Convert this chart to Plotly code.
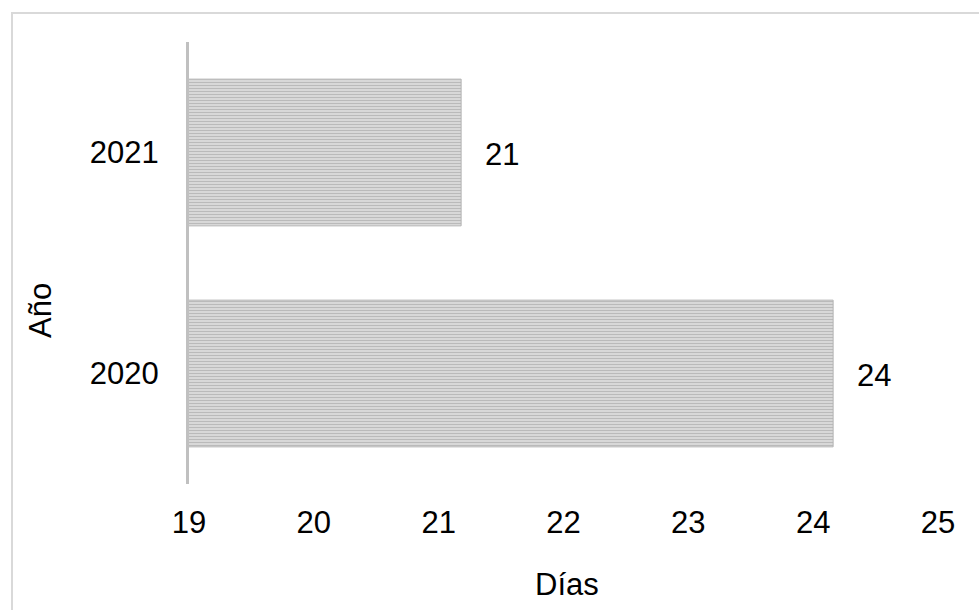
import plotly.graph_objects as go

# Days per year
years = ["2020", "2021"]
days = [24.16, 21.18]
x_ticks = [19, 20, 21, 22, 23, 24, 25]

W, H = 979, 610
L, R, T, B = 189, 41, 42, 126
PW, PH = W - L - R, H - T - B


def px_x(px):
    return (px - L) / PW


def px_y(py):
    return (H - B - py) / PH


FONT = "Liberation Sans, Arial, sans-serif"

fig = go.Figure()
fig.add_trace(go.Bar(
    y=years,
    x=days,
    base=0,
    orientation="h",
    marker=dict(
        color="#e0e0e0",
        line=dict(color="#b5b5b5", width=1),
        pattern=dict(shape="-", fgcolor="#8e8e8e", bgcolor="#e6e6e6",
                     size=3, solidity=0.55),
    ),
    hoverinfo="skip",
))

# Value labels to the right of each bar (category index used for y)
for i, v in enumerate(days):
    fig.add_annotation(x=v, y=i, xref="x", yref="y", text=f"{v:.0f}",
                       showarrow=False, xanchor="left", yanchor="middle",
                       xshift=22, yshift=-2,
                       font=dict(family=FONT, size=31, color="#000000"))

# Axis titles
fig.add_annotation(xref="paper", yref="paper", x=px_x(567), y=px_y(584),
                   text="Días", showarrow=False,
                   xanchor="center", yanchor="middle",
                   font=dict(family=FONT, size=31, color="#000000"))
fig.add_annotation(xref="paper", yref="paper", x=px_x(40), y=px_y(311),
                   text="Año", showarrow=False, textangle=-90,
                   xanchor="center", yanchor="middle",
                   font=dict(family=FONT, size=31, color="#000000"))

# Chart area border
fig.add_shape(type="rect", xref="paper", yref="paper",
              x0=px_x(12), x1=px_x(W + 20), y0=px_y(H + 20), y1=px_y(13),
              line=dict(color="#d9d9d9", width=2), fillcolor="rgba(0,0,0,0)",
              layer="below")

fig.update_layout(
    width=W, height=H,
    margin=dict(l=L, r=R, t=T, b=B),
    paper_bgcolor="white", plot_bgcolor="white",
    showlegend=False,
    bargap=0.336,
    font=dict(family=FONT, size=31, color="#000000"),
    xaxis=dict(range=[19, 25], tickvals=x_ticks, showgrid=False,
               zeroline=False, showline=False, ticks="",
               ticklabelstandoff=17,
               tickfont=dict(family=FONT, size=31, color="#000000")),
    yaxis=dict(type="category", categoryorder="array", categoryarray=years,
               range=[-0.5, 1.5], showgrid=False, zeroline=False,
               showline=True, linecolor="#c0c0c0", linewidth=3, ticks="",
               ticklabelstandoff=21,
               tickfont=dict(family=FONT, size=31, color="#000000")),
)

fig.write_html("out.html")
